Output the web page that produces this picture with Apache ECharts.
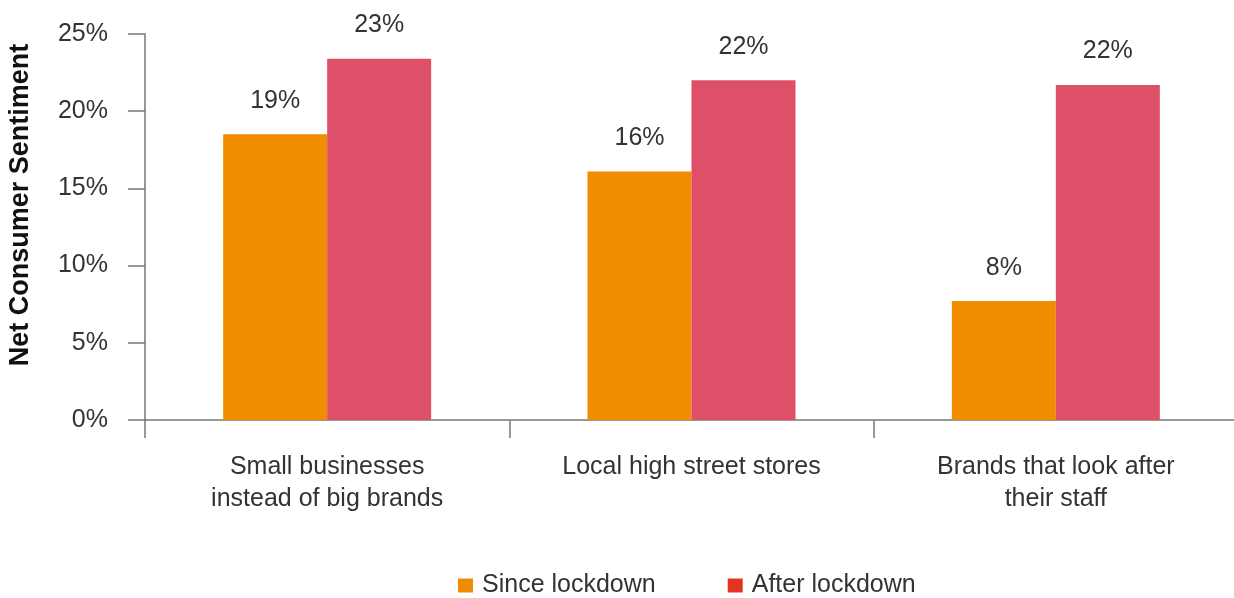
<!DOCTYPE html>
<html><head><meta charset="utf-8">
<script src="https://cdn.jsdelivr.net/npm/echarts@6/dist/echarts.min.js"></script>
<style>html,body{margin:0;padding:0;background:#fff}#c{width:1234px;height:598px}</style>
</head><body><div id="c"></div>
<script>
const categories = ['Small businesses\ninstead of big brands', 'Local high street stores', 'Brands that look after\ntheir staff'];
const seriesNames = ['Since lockdown', 'After lockdown'];
const sinceValues = [18.5, 16.1, 7.7];
const afterValues = [23.4, 22.0, 21.7];
const sinceLabels = ['19%', '16%', '8%'];
const afterLabels = ['23%', '22%', '22%'];
const yTicks = [0, 5, 10, 15, 20, 25];

const FONT = '"Liberation Sans", Arial, sans-serif';
const chart = echarts.init(document.getElementById('c'));
chart.setOption({
  animation: false,
  textStyle: { fontFamily: FONT },
  grid: { left: 145, top: 34, width: 1093, height: 386, containLabel: false, outerBoundsMode: 'none' },
  legend: {
    top: 568, left: 453, itemWidth: 15, itemHeight: 14, itemGap: 72, icon: 'rect',
    textStyle: { fontSize: 25, color: '#333', fontFamily: FONT, padding: [0, 0, 0, 4] },
    data: [
      { name: seriesNames[0], itemStyle: { color: '#ef8c00' } },
      { name: seriesNames[1], itemStyle: { color: '#e3341f' } }
    ]
  },
  xAxis: {
    type: 'category', data: categories,
    axisLine: { show: true, lineStyle: { color: '#777', width: 1.5 } },
    axisTick: { show: true, length: 18, alignWithLabel: false, lineStyle: { color: '#777', width: 1.5 } },
    axisLabel: { fontSize: 25, color: '#333', margin: 31, lineHeight: 32, fontFamily: FONT }
  },
  yAxis: {
    type: 'value', min: 0, max: 25, interval: 5,
    name: 'Net Consumer Sentiment', nameLocation: 'middle', nameGap: 111,
    nameTextStyle: { fontSize: 27, fontWeight: 'bold', color: '#111', fontFamily: FONT, padding: [0, 0, 0, 44] },
    axisLine: { show: true, lineStyle: { color: '#777', width: 1.5 } },
    axisTick: { show: true, length: 17, lineStyle: { color: '#777', width: 1.5 } },
    splitLine: { show: false },
    axisLabel: { fontSize: 25, color: '#333', margin: 37, formatter: v => yTicks.includes(v) ? v + '%' : '', fontFamily: FONT }
  },
  series: [
    {
      name: seriesNames[0], type: 'bar', data: sinceValues, barWidth: 104, barGap: '0%',
      itemStyle: { color: '#ef8c00' },
      label: { show: true, position: 'top', distance: 21, fontSize: 25, color: '#333',
        formatter: p => sinceLabels[p.dataIndex] }
    },
    {
      name: seriesNames[1], type: 'bar', data: afterValues, barWidth: 104, barGap: '0%',
      itemStyle: { color: '#dd5068' },
      label: { show: true, position: 'top', distance: 21, fontSize: 25, color: '#333',
        formatter: p => afterLabels[p.dataIndex] }
    }
  ]
});
</script></body></html>
